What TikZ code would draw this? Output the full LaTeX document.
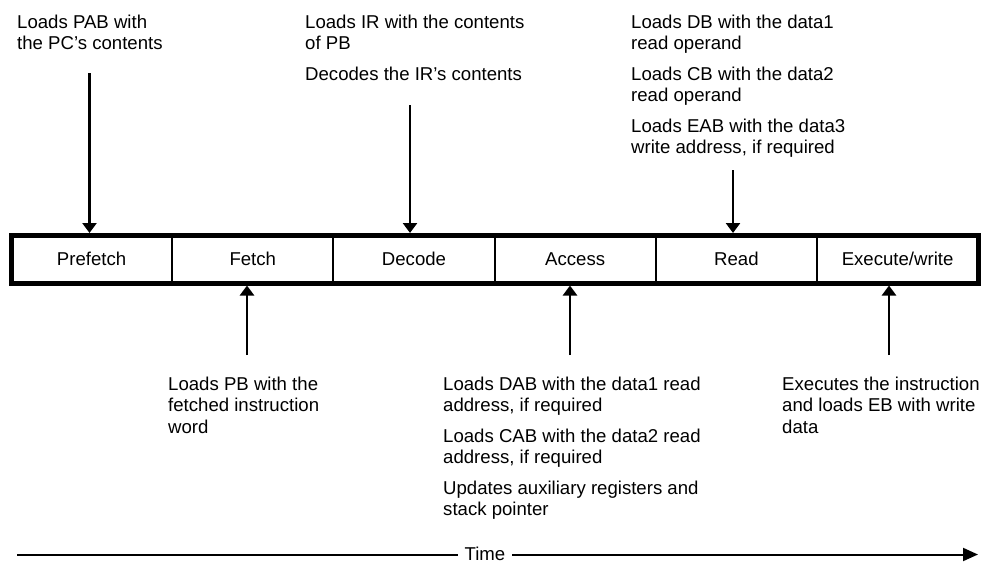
\documentclass[tikz,border=0pt]{standalone}
\usepackage{fontspec}
\setmainfont{Liberation Sans}
\usetikzlibrary{arrows.meta}

\tikzset{
  txt/.style={font=\fontsize{18.6}{21.5}\selectfont},
  stage/.style={txt, draw, line width=2pt, minimum width=161.2pt,
                minimum height=47.5pt, inner sep=0pt, outer sep=0pt},
  note/.style={txt, align=left, inner sep=0pt, anchor=north west},
  tick/.style={line width=2.7pt, -{Triangle[width=14pt,length=10pt]}},
  timeline/.style={line width=2pt, -{Triangle[width=13pt,length=15pt]}}
}

\newcommand{\itemgap}{\\[9pt]}

\begin{document}
\begin{tikzpicture}[x=1pt,y=-1pt]
  \useasboundingbox (0,0) rectangle (988,563);

  % pipeline stages
  \node[stage] (c1) at (91.6,259.25) {Prefetch};
  \node[stage] (c2) at (252.8,259.25) {Fetch};
  \node[stage] (c3) at (414.0,259.25) {Decode};
  \node[stage] (c4) at (575.2,259.25) {Access};
  \node[stage] (c5) at (736.4,259.25) {Read};
  \node[stage] (c6) at (897.6,259.25) {Execute/write};
  \draw[line width=5pt] (c1.north west) rectangle (c6.south east);

  % top edge and bottom edge of the thick frame
  \coordinate (top) at ([yshift=2.5pt]c1.north);
  \coordinate (bot) at ([yshift=-2.5pt]c1.south);

  % descriptions above the pipeline
  \node[note] (t1) at (17,14.4) {Loads PAB with\\the PC's contents};
  \node[note] (t3) at (305,14.4) {Loads IR with the contents\\of PB\itemgap Decodes the IR's contents};
  \node[note] (t5) at (631,14.4) {Loads DB with the data1\\read operand\itemgap
    Loads CB with the data2\\read operand\itemgap
    Loads EAB with the data3\\write address, if required};

  % descriptions below the pipeline
  \node[note] (t2) at (168,376.4) {Loads PB with the\\fetched instruction\\word};
  \node[note] (t4) at (443,376.4) {Loads DAB with the data1 read\\address, if required\itemgap
    Loads CAB with the data2 read\\address, if required\itemgap
    Updates auxiliary registers and\\stack pointer};
  \node[note] (t6) at (782,376.4) {Executes the instruction\\and loads EB with write\\data};

  % arrows into the stages from above
  \coordinate (a1) at (89.5,73);
  \coordinate (a3) at (410,105);
  \coordinate (a5) at (733,170);
  \draw[tick] (a1) -- (a1 |- top);
  \draw[tick] (a3) -- (a3 |- top);
  \draw[tick] (a5) -- (a5 |- top);

  % arrows into the stages from below
  \coordinate (a2) at (247,355);
  \coordinate (a4) at (570,355);
  \coordinate (a6) at (889,355);
  \draw[tick] (a2) -- (a2 |- bot);
  \draw[tick] (a4) -- (a4 |- bot);
  \draw[tick] (a6) -- (a6 |- bot);

  % time axis
  \coordinate (ts) at (17,554.5);
  \coordinate (te) at (978,554.5);
  \draw[timeline] (ts) -- (te);
  \node[txt, fill=white, inner xsep=7pt, inner ysep=0pt] (time) at (485,554) {Time};
\end{tikzpicture}
\end{document}
